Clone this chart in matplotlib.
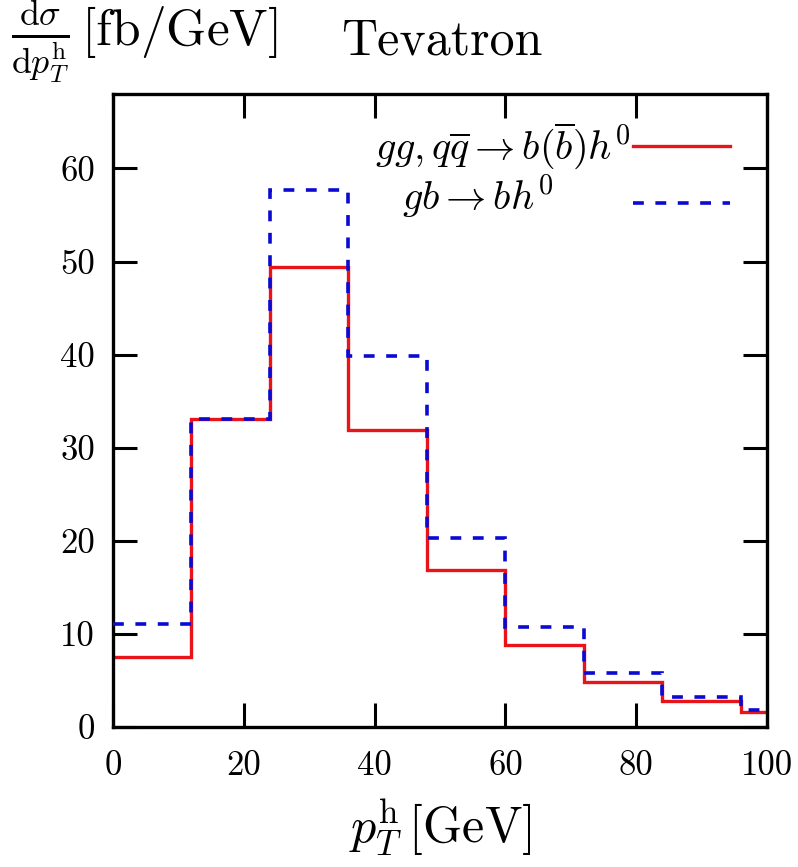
import numpy as np
import matplotlib
matplotlib.use("Agg")
import matplotlib.pyplot as plt

plt.rcParams['mathtext.fontset'] = 'cm'
plt.rcParams['font.family'] = ['cmr10', 'DejaVu Serif']
plt.rcParams['axes.formatter.use_mathtext'] = True

# bin edges in pT (GeV) and histogram heights (fb/GeV)
edges = [0, 12, 24, 36, 48, 60, 72, 84, 96, 108]
gg_qq = [7.5, 33.1, 49.4, 31.9, 16.9, 8.8, 4.8, 2.8, 1.6]
gb = [11.1, 33.1, 57.7, 39.8, 20.3, 10.7, 5.8, 3.2, 1.8]

xticks = [0, 20, 40, 60, 80, 100]
yticks = [0, 10, 20, 30, 40, 50, 60]

red = '#e8141a'
blue = '#0a0ad2'
dash = (0, (3.0, 3.2))

fig = plt.figure(figsize=(7.98, 8.67), dpi=100)
ax = fig.add_axes([0.1416, 0.1615, 0.9612 - 0.1416, 0.8916 - 0.1615])

ax.stairs(gg_qq, edges, baseline=None, color=red, lw=2.4, zorder=2)
ax.stairs(gb, edges, baseline=None, color=blue, lw=2.6,
          linestyle=dash, zorder=3)

ax.set_xlim(0, 100)
ax.set_ylim(0, 68)
ax.set_xticks(xticks)
ax.set_yticks(yticks)
ax.set_xticklabels([str(t) for t in xticks])
ax.set_yticklabels([str(t) for t in yticks])
ax.tick_params(direction='in', length=17, width=2.2, top=True, right=True,
               labelsize=25)
ax.tick_params(axis='x', pad=17)
ax.tick_params(axis='y', pad=13)
for s in ax.spines.values():
    s.set_linewidth(2.4)

# legend drawn by hand (text left, sample line right)
ax.text(0.401, 0.918, r'$gg,q\overline{q}\rightarrow b(\overline{b})h^0$',
        transform=ax.transAxes, fontsize=29, va='center', ha='left')
ax.text(0.442, 0.838, r'$gb\rightarrow bh^0$',
        transform=ax.transAxes, fontsize=29, va='center', ha='left')
ax.plot([0.795, 0.943], [0.918, 0.918], transform=ax.transAxes,
        color=red, lw=2.4)
ax.plot([0.795, 0.943], [0.828, 0.828], transform=ax.transAxes,
        color=blue, lw=2.6, linestyle=dash)

ax.set_xlabel(r'$p_T^{\mathrm{h}}\,[\mathrm{GeV}]$', fontsize=36, labelpad=10)

fig.text(0.014, 0.952, r'$\frac{\mathrm{d}\sigma}{\mathrm{d}p_T^{\mathrm{h}}}\,[\mathrm{fb/GeV}]$',
         fontsize=37, va='center', ha='left')
fig.text(0.428, 0.952, 'Tevatron', fontsize=36, va='center', ha='left')

fig.savefig('out.png', dpi=100)
